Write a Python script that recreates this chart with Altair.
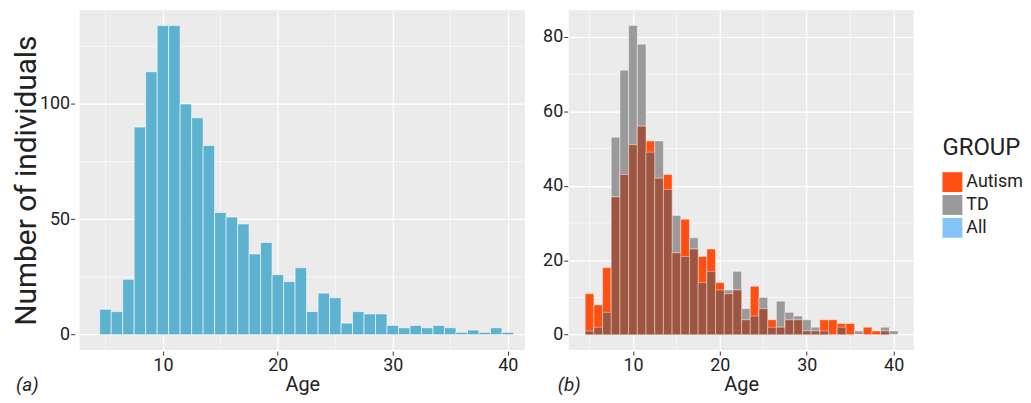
import altair as alt
import pandas as pd

# ---------------- data ----------------
ages = list(range(5, 41))
all_counts = [11, 10, 24, 90, 114, 134, 134, 100, 94, 82, 53, 51, 48, 35, 40, 26,
              23, 29, 10, 18, 16, 5, 10, 9, 9, 4, 3, 4, 3, 4, 3, 1, 2, 1, 3, 1]
autism_counts = [11, 8, 18, 37, 43, 51, 56, 52, 42, 43, 22, 31, 23, 21, 23, 14,
                 11, 12, 4, 13, 7, 4, 2, 4, 4, 1, 1, 4, 4, 3, 3, 0, 2, 1, 1, 0]
td_counts = [1, 2, 6, 53, 71, 83, 78, 49, 52, 39, 32, 21, 26, 14, 17, 12,
             12, 17, 7, 5, 10, 2, 9, 6, 5, 4, 2, 1, 0, 2, 0, 1, 0, 0, 2, 1]

groups = ["Autism", "TD", "All"]
group_colors = ["#FF4F12", "#9A9A9A", "#84C4F8"]
all_color = "#5DB3CF"
overlap_color = "#9E5643"

x_ticks = [10, 20, 30, 40]
x_minor = [5, 15, 25, 35]
left_y_ticks = [0, 50, 100]
left_y_minor = [25, 75, 125]
right_y_ticks = [0, 20, 40, 60, 80]
right_y_minor = [10, 30, 50, 70]
panel_tags = ["(a)", "(b)"]

FONT = "Roboto"
TXT = "#222222"

df_all = pd.DataFrame({"age": ages, "count": all_counts})
df_grp = pd.DataFrame({"age": ages, "Autism": autism_counts, "TD": td_counts})

PW_L, PW_R, PH = 448, 347, 342


def x_enc(field, domain, offset):
    return alt.X(field, type="quantitative",
                 scale=alt.Scale(domain=domain, nice=False, zero=False),
                 axis=alt.Axis(values=x_ticks, title="Age", titleFontSize=20,
                               titlePadding=0, offset=offset, labelPadding=2,
                               format="d"))


def y_enc(field, domain, ticks, title, offset):
    kw = dict(values=ticks, offset=offset, labelPadding=1, format="d")
    if title:
        kw.update(title=title, titleFontSize=30, titlePadding=-2)
    else:
        kw.update(title=None)
    return alt.Y(field, type="quantitative",
                 scale=alt.Scale(domain=domain, nice=False, zero=False),
                 axis=alt.Axis(**kw))


def minor_rules(xs, ys, xdom, ydom, yticks, ytitle, xoff, yoff):
    vx = alt.Chart(pd.DataFrame({"mx": xs})).mark_rule(
        color="white", strokeWidth=0.6).encode(x=x_enc("mx", xdom, xoff))
    hy = alt.Chart(pd.DataFrame({"my": ys})).mark_rule(
        color="white", strokeWidth=0.6).encode(y=y_enc("my", ydom, yticks, ytitle, yoff))
    return vx, hy


# ---------------- left panel ----------------
L_XDOM = [2.75, 41.5]
L_YDOM = [-6.7, 140.7]
L_YOFF = 5
lvx, lhy = minor_rules(x_minor, left_y_minor, L_XDOM, L_YDOM, left_y_ticks,
                       "Number of individuals", 1, L_YOFF)
left_bars = alt.Chart(df_all).transform_calculate(
    lo="datum.age - 0.5", hi="datum.age + 0.5"
).mark_bar(fill=all_color, stroke="white", strokeWidth=0.7, strokeOpacity=0.8).encode(
    x=x_enc("lo", L_XDOM, 1),
    x2="hi:Q",
    y=y_enc("count", L_YDOM, left_y_ticks, "Number of individuals", L_YOFF),
    y2=alt.datum(0),
)
left_tag = alt.Chart(pd.DataFrame({"tag": [panel_tags[0]]})).mark_text(
    font=FONT, fontSize=19, fontStyle="italic", align="left", baseline="alphabetic",
    color=TXT).encode(x=alt.value(-64), y=alt.value(383), text="tag:N")
left = alt.layer(lvx, lhy, left_bars, left_tag).properties(width=PW_L, height=PH)

# ---------------- right panel ----------------
R_XDOM = [2.6, 42.3]
R_YDOM = [-4.15, 87.15]
rvx, rhy = minor_rules(x_minor, right_y_minor, R_XDOM, R_YDOM, right_y_ticks,
                       None, 1, 1)
group_bars = alt.Chart(df_grp).transform_fold(
    ["TD", "Autism"], as_=["group", "n"]
).transform_calculate(
    lo="datum.age - 0.5", hi="datum.age + 0.5"
).mark_bar(stroke="white", strokeWidth=0.6, strokeOpacity=0.7).encode(
    x=x_enc("lo", R_XDOM, 1),
    x2="hi:Q",
    y=y_enc("n", R_YDOM, right_y_ticks, None, 1),
    y2=alt.datum(0),
    color=alt.Color("group:N",
                    scale=alt.Scale(domain=groups, range=group_colors),
                    legend=alt.Legend(title="GROUP", orient="none",
                                      legendX=868, legendY=127)),
)
overlap_bars = alt.Chart(df_grp).transform_calculate(
    lo="datum.age - 0.5", hi="datum.age + 0.5",
    ov="min(datum.Autism, datum.TD)"
).transform_filter("datum.ov > 0").mark_bar(
    fill=overlap_color, stroke="#F3E6D8", strokeWidth=0.6, strokeOpacity=0.8
).encode(
    x=x_enc("lo", R_XDOM, 1),
    x2="hi:Q",
    y=y_enc("ov", R_YDOM, right_y_ticks, None, 1),
    y2=alt.datum(0),
)
right_tag = alt.Chart(pd.DataFrame({"tag": [panel_tags[1]]})).mark_text(
    font=FONT, fontSize=19, fontStyle="italic", align="left", baseline="alphabetic",
    color=TXT).encode(x=alt.value(-11), y=alt.value(383), text="tag:N")
right = alt.layer(rvx, rhy, group_bars, overlap_bars, right_tag).properties(
    width=PW_R, height=PH)

chart = alt.hconcat(
    left, right, spacing=16,
    padding={"left": 3, "top": 0, "right": 0, "bottom": 0},
).configure_view(
    fill="#EBEBEB", strokeWidth=0
).configure_axis(
    domain=False, tickColor="#333333", tickSize=4, tickWidth=1,
    labelColor=TXT, labelFont=FONT, labelFontSize=18,
    titleColor=TXT, titleFont=FONT, titleFontWeight="normal",
    gridColor="white", gridWidth=1.2,
).configure_legend(
    titleFont=FONT, titleFontSize=24, titleFontWeight="normal", titleColor=TXT,
    labelFont=FONT, labelFontSize=18, labelColor=TXT,
    symbolType="square", symbolSize=400, symbolStrokeWidth=0, symbolOpacity=1,
    rowPadding=3, padding=0, titlePadding=12,
).properties(background="white")

chart.save("out.html", embed_options={"renderer": "svg", "actions": False})
